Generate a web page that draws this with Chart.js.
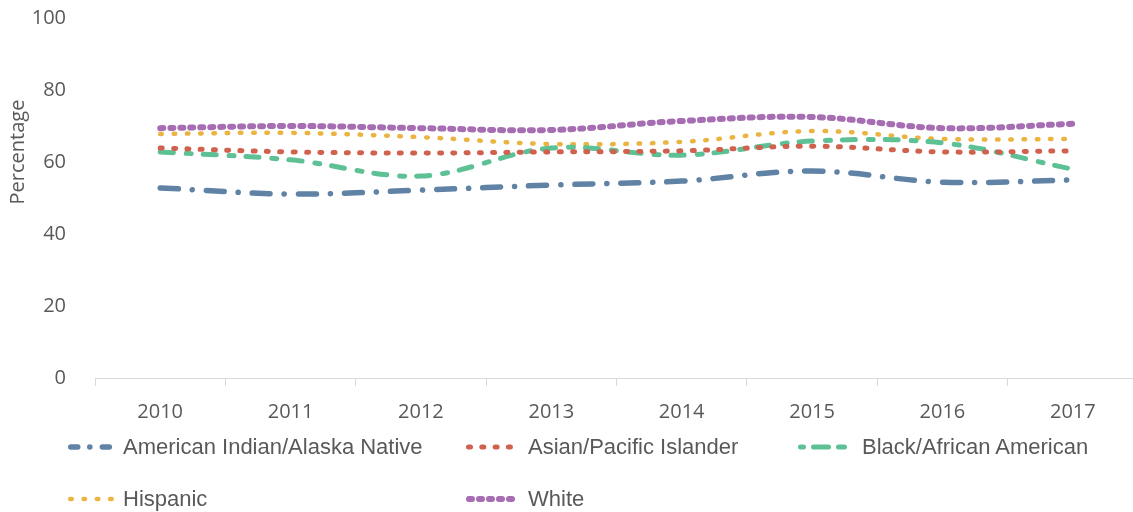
<!DOCTYPE html>
<html>
<head>
<meta charset="utf-8">
<script src="https://cdn.jsdelivr.net/npm/chart.js@4"></script>
<style>
  html, body { margin: 0; padding: 0; background: #fff; overflow: hidden; }
  #wrap { position: relative; width: 1140px; height: 430px; }
  #overlay { position: absolute; left: 0; top: 0; width: 1133px; height: 512px; pointer-events: none; }
  .sample { position: absolute; }
  .label { position: absolute; font-family: "Liberation Sans", Arial, sans-serif; font-size: 22px; color: #595959; white-space: nowrap; line-height: 28px; }
  #ytitle { position: absolute; font-family: "Open Sans", sans-serif; font-size: 20px; color: #595959; white-space: nowrap;
            left: 17px; top: 152px; transform: translate(-50%, -50%) rotate(-90deg); line-height: 24px; }
</style>
</head>
<body>
<div id="wrap"><canvas id="chart"></canvas></div>
<div id="overlay"><div id="ytitle">Percentage</div></div>
<script>
const years = ['2010', '2011', '2012', '2013', '2014', '2015', '2016', '2017'];
const yTicks = [0, 20, 40, 60, 80, 100];

const seriesNames = ['American Indian/Alaska Native', 'Asian/Pacific Islander', 'Black/African American', 'Hispanic', 'White'];
const americanIndian = [52.8, 51.1, 52.2, 53.6, 54.7, 57.5, 54.4, 55.0];
const asianPacific = [63.9, 62.8, 62.5, 62.8, 63.1, 64.4, 62.8, 63.1];
const blackAfrican = [62.8, 60.6, 56.1, 63.9, 61.9, 65.8, 65.3, 58.0];
const hispanic = [67.8, 68.1, 66.9, 65.0, 65.6, 68.6, 66.4, 66.4];
const white = [69.4, 70.0, 69.4, 68.9, 71.4, 72.5, 69.4, 70.6];

const colors = ['#5f82a5', '#d0614e', '#5dc195', '#ebb340', '#a66db2'];
const dashes = [[18, 14, 0.1, 14], [2, 11.3], [13, 13, 5, 12], [1.5, 11.8], [3, 7]];
// shorter patterns for the small legend samples
const legendDashes = [[7, 12, 0.1, 12.5], [2, 11.3], [3, 10, 15, 10, 6, 10], [1.5, 11.8], [3, 7]];
const widths = [5.5, 5, 5, 4.5, 6];

const allValues = [americanIndian, asianPacific, blackAfrican, hispanic, white];

const datasets = allValues.map((vals, i) => ({
    label: seriesNames[i],
    data: vals,
    borderColor: colors[i],
    backgroundColor: colors[i],
    borderWidth: widths[i],
    borderDash: dashes[i],
    borderCapStyle: 'round',
    borderJoinStyle: 'round',
    pointRadius: 0,
    tension: 0.35,
    fill: false
}));

const tickFont = { family: '"Open Sans"', size: 20 };

const ctx = document.getElementById('chart').getContext('2d');
new Chart(ctx, {
    type: 'line',
    data: { labels: years, datasets: datasets },
    options: {
        responsive: true,
        maintainAspectRatio: false,
        animation: false,
        layout: { padding: { top: 18, right: 2, left: 0, bottom: 0 } },
        plugins: { legend: { display: false }, tooltip: { enabled: false } },
        scales: {
            x: {
                offset: true,
                grid: { display: true, drawOnChartArea: false, drawTicks: true, tickLength: 8, color: '#d9d9d9', offset: true },
                border: { display: true, color: '#d9d9d9', width: 1 },
                ticks: { color: '#595959', font: tickFont, padding: 14 },
                afterFit: (scale) => {
                    scale.height = 52;
                    scale.paddingLeft = 0; scale.paddingRight = 0;
                }
            },
            y: {
                min: 0,
                max: 100,
                afterBuildTicks: (scale) => { scale.ticks = yTicks.map(v => ({ value: v })); },
                grid: { display: false, drawTicks: false },
                border: { display: false },
                ticks: { color: '#595959', font: tickFont, padding: 29 },
                afterFit: (scale) => {
                    scale.width = 95;
                    scale.paddingTop = 0; scale.paddingBottom = 0;
                }
            }
        }
    }
});

// legend in the Excel grid layout: [sample left, sample right, text left, center y]
const legendPos = [[68, 118, 123, 447], [466, 522, 528, 447], [798, 847, 862, 447], [68, 118, 123, 499], [466, 522, 528, 499]];
const overlay = document.getElementById('overlay');
seriesNames.forEach((name, i) => {
    const [x0, x1, tx, cy] = legendPos[i];
    const c = document.createElement('canvas');
    c.className = 'sample';
    c.width = x1 - x0 + 6; c.height = 12;
    c.style.left = (x0 - 3) + 'px';
    c.style.top = (cy - 6) + 'px';
    const g = c.getContext('2d');
    g.strokeStyle = colors[i];
    g.lineWidth = widths[i];
    g.lineCap = 'round';
    g.setLineDash(legendDashes[i]);
    g.beginPath();
    g.moveTo(3 + widths[i] / 2, 6);
    g.lineTo(c.width - 3 - widths[i] / 2, 6);
    g.stroke();
    overlay.appendChild(c);
    const span = document.createElement('div');
    span.className = 'label';
    span.textContent = name;
    span.style.left = tx + 'px';
    span.style.top = (cy - 14) + 'px';
    overlay.appendChild(span);
});
</script>
</body>
</html>
